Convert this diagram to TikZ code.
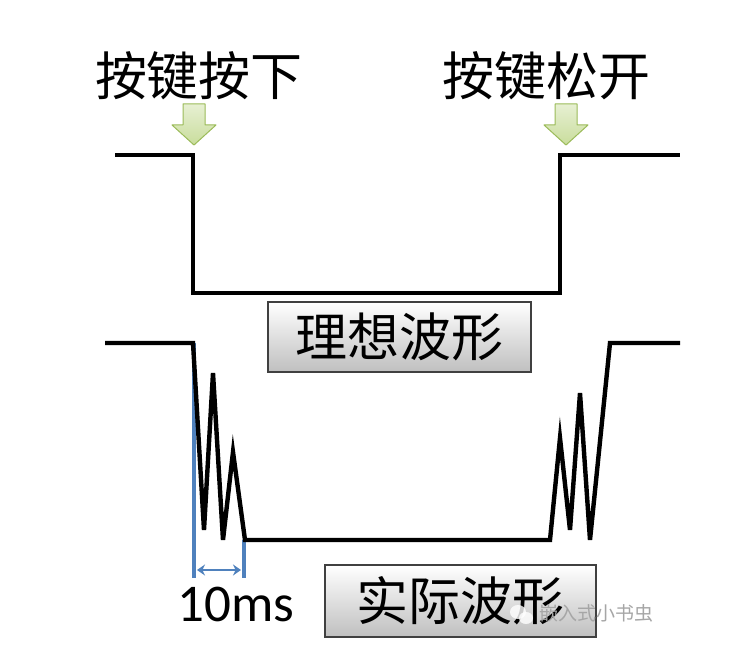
\documentclass[tikz,border=0pt]{standalone}
\usepackage{fontspec}
\setmainfont{Carlito}
\newfontfamily\cjk{Noto Sans CJK SC}
\usetikzlibrary{arrows.meta}
\definecolor{wblue}{HTML}{4F81BD}
\definecolor{agreen}{HTML}{9BBB59}
\definecolor{afill}{HTML}{C9DD9C}
\tikzset{
  wave/.style={line width=4.4pt, line join=miter, black},
  mark blue/.style={line width=3.6pt, wblue},
  toplabel/.style={font=\cjk\fontsize{52}{52}\selectfont, inner sep=0pt},
  waveboxstyle/.style={draw=black!75, line width=1.8pt, top color=white, bottom color=black!25,
    font=\cjk\fontsize{52}{52}\selectfont, inner sep=0pt},
  downarrow/.style={draw=agreen, line width=1pt, top color=afill!45, bottom color=afill, line join=round},
  wm/.style={font=\cjk\fontsize{19}{19}\selectfont, text=black!35, inner sep=0pt}
}
\begin{document}
\begin{tikzpicture}[x=1pt,y=-1pt]
\useasboundingbox[fill=white] (0,0) rectangle (740,668);

% labels
\node[toplabel] (press) at (199,76) {按键按下};
\node[toplabel] (release) at (546,76) {按键松开};

% green arrows
\foreach \cx/\nm in {194/a1, 566/a2} {
  \draw[downarrow] (\cx-11,104) -- (\cx+11,104) -- (\cx+11,125) -- (\cx+22,125)
    -- (\cx,145) -- (\cx-22,125) -- (\cx-11,125) -- cycle;
}

% ideal waveform
\coordinate (i0) at (115,155);
\coordinate (i1) at (193,155);
\coordinate (i2) at (193,293);
\coordinate (i3) at (560,293);
\coordinate (i4) at (560,155);
\coordinate (i5) at (680,155);
\draw[wave] (i0) -- (i1) -- (i2) -- (i3) -- (i4) -- (i5);

\node[waveboxstyle, minimum width=263pt, minimum height=70pt] (ideal) at (399.5,337) {理想波形};

% real waveform
\coordinate (r0) at (105,343);
\coordinate (r1) at (193,343);
\coordinate (r2) at (204,530);
\coordinate (r3) at (213,373);
\coordinate (r4) at (223,540);
\coordinate (r5) at (233,452);
\coordinate (r6) at (245,540);
\coordinate (r7) at (550,540);
\coordinate (r8) at (560,438);
\coordinate (r9) at (570,530);
\coordinate (r10) at (580,393);
\coordinate (r11) at (590,540);
\coordinate (r12) at (610,343);
\coordinate (r13) at (680,343);

% blue markers
\coordinate (b1t) at (194,343);
\coordinate (b1b) at (194,578);
\coordinate (b2t) at (244,540);
\coordinate (b2b) at (244,578);
\draw[mark blue] (b1t) -- (b1b);
\draw[mark blue] (b2t) -- (b2b);
\coordinate (d1) at (197,570);
\coordinate (d2) at (241,570);
\draw[wblue, line width=2.6pt, {Stealth[length=8pt,width=11pt]}-{Stealth[length=8pt,width=11pt]}] (d1) -- (d2);

\draw[wave] (r0) -- (r1) -- (r2) -- (r3) -- (r4) -- (r5) -- (r6) -- (r7) -- (r8) -- (r9) -- (r10) -- (r11) -- (r12) -- (r13);

\node[font=\fontsize{53}{53}\selectfont, inner sep=0pt] (tms) at (236,604) {10ms};

\node[waveboxstyle, minimum width=271pt, minimum height=72pt] (real) at (460.5,601) {实际波形};

% watermark
\fill[white, opacity=0.8] (518,612) ellipse (8pt and 7pt);
\fill[white, opacity=0.8] (526,618) ellipse (7pt and 6pt);
\node[wm, anchor=west] (wmtext) at (539,613) {嵌入式小书虫};
\end{tikzpicture}
\end{document}
